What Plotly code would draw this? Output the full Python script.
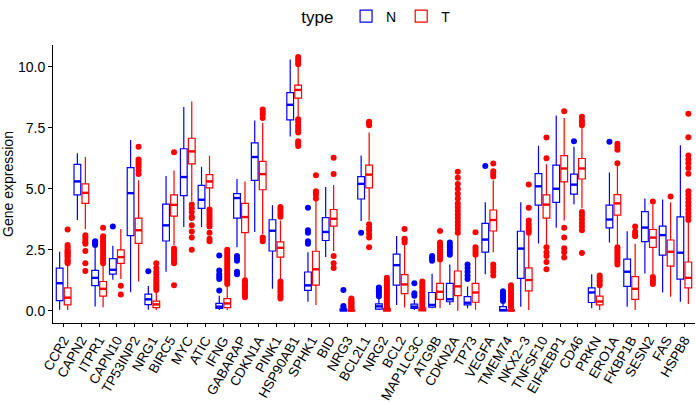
import plotly.graph_objects as go

genes = ["CCR2", "CAPN2", "ITPR1", "CAPN10", "TP53INP2", "NRG1", "BIRC5", "MYC", "ATIC",
         "IFNG", "GABARAP", "CDKN1A", "PINK1", "HSP90AB1", "SPHK1", "BID", "NRG3", "BCL2L1",
         "NRG2", "BCL2", "MAP1LC3C", "ATG9B", "CDKN2A", "TP73", "VEGFA", "TMEM74", "NKX2\u22123",
         "TNFSF10", "EIF4EBP1", "CD46", "PRKN", "ERO1A", "FKBP1B", "SESN2", "FAS", "HSPB8"]

# normal samples: lower whisker, q1, median, q3, upper whisker
n_lo = [0.04, 3.72, 0.18, 1.27, 0.76, 0.04, 1.6, 3.43, 3.43, 0.03, 2.6, 3.23, 0.9, 7.14, 0.37, 2.2,
        0.0, 3.68, 0.03, 0.24, 0.03, 0.1, 0.24, 0.1, 1.5, 0.0, 0.17, 2.76, 3.4, 4.37, 0.1, 2.8,
        0.17, 1.53, 0.75, 0.37]
n_q1 = [0.42, 4.75, 1.03, 1.5, 3.08, 0.25, 2.86, 4.72, 4.2, 0.1, 3.8, 5.34, 2.45, 7.82, 0.84, 2.88,
        0.0, 4.58, 0.07, 1.05, 0.1, 0.15, 0.37, 0.24, 2.4, 0.0, 1.33, 4.33, 4.44, 4.78, 0.34, 3.4,
        1.0, 2.83, 2.28, 1.3]
n_med = [1.13, 5.3, 1.35, 1.68, 4.82, 0.47, 3.5, 5.48, 4.55, 0.17, 4.62, 6.3, 3.28, 8.44, 1.04, 3.23,
         0.02, 5.2, 0.18, 1.87, 0.17, 0.24, 0.47, 0.33, 2.92, 0.03, 2.55, 5.1, 5.0, 5.17, 0.75, 3.74,
         1.6, 3.41, 3.1, 2.38]
n_q3 = [1.75, 6.0, 1.66, 2.14, 5.87, 0.68, 4.37, 6.64, 5.14, 0.3, 4.8, 6.88, 3.73, 8.94, 1.59, 3.82,
        0.08, 5.5, 0.28, 2.32, 0.27, 0.75, 1.12, 0.58, 3.58, 0.17, 3.26, 5.62, 5.97, 5.6, 0.94, 4.33,
        2.12, 4.06, 3.47, 3.85]
n_hi = [2.42, 6.45, 2.6, 2.67, 7.0, 1.02, 5.52, 8.35, 5.9, 0.62, 5.4, 7.8, 4.32, 10.3, 2.4, 5.07,
        0.12, 6.36, 0.5, 3.06, 0.45, 1.52, 1.9, 1.0, 4.45, 0.3, 4.45, 6.76, 8.0, 6.72, 1.5, 5.67,
        3.26, 4.6, 4.56, 6.78]
n_out = [[], [], [2.7, 2.75, 2.8, 2.85], [3.45], [], [1.62], [], [], [],
         [0.83, 1.3, 1.4, 1.5, 1.65, 2.27], [2.25, 2.15, 2.05, 1.6, 1.5], [], [], [],
         [2.75, 2.85, 3.2, 3.3, 4.22], [], [0.16, 0.2, 0.85], [3.2],
         [0.6, 0.7, 0.8, 0.9, 0.95], [], [0.62, 0.72, 1.13], [2.05, 2.15, 2.25],
         [2.3, 2.4, 2.5, 2.6, 2.7, 2.8], [1.3, 1.45, 1.6, 1.75, 1.9], [5.93],
         [0.4, 0.5, 0.6, 0.7, 0.8], [], [], [], [6.95], [], [6.93], [], [], [], []]

# tumour samples
t_lo = [0.03, 3.35, 0.15, 1.3, 1.2, 0.03, 2.7, 4.5, 4.25, 0.03, 1.35, 3.15, 1.3, 7.95, 0.24, 2.45,
        0.0, 3.7, 0.0, 0.13, 0.0, 0.1, 0.0, 0.04, 2.4, 0.0, 0.03, 2.7, 3.7, 4.2, 0.03, 2.72,
        0.03, 1.48, 0.58, 0.28]
t_q1 = [0.24, 4.4, 0.6, 1.94, 2.76, 0.13, 3.88, 6.02, 5.04, 0.13, 3.2, 4.96, 2.2, 8.71, 1.05, 3.47,
        0.0, 5.04, 0.0, 0.7, 0.0, 0.47, 0.62, 0.35, 3.27, 0.0, 0.82, 3.8, 5.28, 5.4, 0.24, 3.92,
        0.47, 2.6, 1.83, 0.94]
t_med = [0.54, 4.83, 0.9, 2.2, 3.3, 0.26, 4.34, 6.53, 5.3, 0.3, 3.84, 5.6, 2.58, 9.05, 1.7, 3.77,
         0.01, 5.58, 0.02, 1.08, 0.04, 0.78, 1.0, 0.75, 3.72, 0.01, 1.26, 4.35, 5.83, 5.83, 0.38, 4.4,
         0.9, 3.0, 2.42, 1.35]
t_q3 = [0.94, 5.2, 1.2, 2.5, 3.8, 0.4, 4.75, 7.07, 5.58, 0.5, 4.4, 6.12, 2.82, 9.25, 2.44, 4.15,
        0.03, 5.97, 0.1, 1.48, 0.12, 1.12, 1.63, 1.12, 4.13, 0.04, 1.76, 4.75, 6.36, 6.24, 0.6, 4.76,
        1.4, 3.33, 2.9, 2.0]
t_hi = [1.85, 6.3, 1.85, 3.35, 5.35, 0.8, 5.75, 8.58, 6.35, 1.02, 5.3, 7.7, 3.7, 10.05, 4.5, 5.15,
        0.06, 7.3, 0.12, 2.7, 0.15, 2.05, 3.1, 2.2, 5.35, 0.08, 3.1, 6.0, 7.9, 7.48, 0.95, 5.95,
        2.75, 4.35, 4.45, 3.6]
t_out = [[1.95, 2.0, 2.05, 2.1, 2.2, 2.25, 2.3, 2.35, 2.4, 2.45, 2.5, 2.6, 2.7, 3.33],
         [3.1, 3.0, 2.9, 2.8, 2.75, 2.45, 1.95, 1.63],
         [1.95, 2.05, 2.15, 2.25, 2.35, 2.45, 2.55, 2.65, 2.75, 2.85, 2.95, 3.05, 3.4],
         [1.03, 0.67],
         [5.6, 5.75, 5.9, 6.0, 6.1, 6.2, 6.72],
         [0.85, 0.95, 1.05, 1.15, 1.25, 1.35, 1.5, 1.6, 1.75, 1.95],
         [6.5, 2.55, 2.45, 2.35, 2.25, 2.15, 2.05, 1.95, 1.05],
         [4.35, 4.2, 4.05, 3.85, 3.8, 3.5, 3.25, 3.0, 2.5],
         [4.15, 4.05, 3.95, 3.85, 3.75, 3.65, 3.55, 3.45, 3.2, 2.95, 2.85],
         [1.1, 1.2, 1.3, 1.4, 1.5, 1.6, 1.7, 1.8, 1.9, 2.0, 2.1, 2.2, 2.3, 2.4, 2.5],
         [1.25, 1.15, 1.05, 0.95, 0.85, 0.75, 0.65, 0.55],
         [7.9, 8.05, 8.15, 8.25, 3.0, 2.95, 2.85],
         [3.85, 3.95, 4.05, 4.15, 4.25, 1.2, 1.1, 1.0, 0.9, 0.8, 0.7, 0.6, 0.5],
         [10.1, 10.2, 10.3, 10.4, 7.85, 7.75, 7.6, 7.5, 7.4, 7.3, 6.95, 6.85, 6.75],
         [4.6, 4.75, 4.85, 4.9, 5.55],
         [5.6, 6.27, 2.25, 1.95, 1.75],
         [0.1, 0.15, 0.2, 0.25, 0.3, 0.35, 0.4, 0.45, 0.5],
         [7.6, 7.7, 7.75, 3.55, 3.4, 3.3, 3.15, 3.0, 2.6],
         [0.15, 0.25, 0.35, 0.45, 0.55, 0.65, 0.75, 0.85, 0.95, 1.05, 1.15, 1.25, 1.35],
         [2.8, 2.9, 2.95, 3.35],
         [0.2, 0.3, 0.4, 0.5, 0.6, 0.7, 0.8, 0.9, 1.0, 1.1, 1.2],
         [2.1, 2.2, 2.3, 2.4, 2.5, 2.6, 2.7, 2.8, 3.27],
         [3.2, 3.35, 3.5, 3.65, 3.8, 3.95, 4.1, 4.25, 4.4, 4.6, 4.8, 5.0, 5.2, 5.45, 5.7],
         [2.3, 2.4, 2.5, 2.6, 3.22],
         [5.5, 5.6, 5.72, 6.03, 1.9, 1.75, 1.6, 1.45],
         [0.15, 0.25, 0.35, 0.45, 0.55, 0.65, 0.75, 0.85, 0.95, 1.05],
         [3.2, 3.3, 3.4, 3.55, 3.7, 4.22, 5.17],
         [6.25, 7.1, 2.6, 2.4, 2.25, 2.0, 1.7],
         [8.18, 3.4, 3.0, 2.56, 2.4, 2.18],
         [7.6, 7.7, 7.8, 7.95, 4.05, 3.9, 3.75, 3.6, 3.45, 3.3, 2.37],
         [1.05, 1.15, 1.25, 1.35, 1.45],
         [6.05, 6.6, 6.72, 6.84, 2.6, 2.5, 2.4, 2.3, 2.2, 2.1, 2.0, 1.9],
         [3.05, 3.15, 3.25, 3.45],
         [4.48, 1.38, 1.3, 1.2, 1.1],
         [4.68],
         [3.72, 3.85, 4.0, 4.15, 4.3, 4.45, 4.6, 4.75, 4.9, 5.62, 5.85, 6.05, 6.2, 6.36, 7.11, 8.07]]

FONT = "Liberation Sans, Arial, sans-serif"
DODGE = 0.225   # half the distance between the N and T box of one gene
BOXW = 0.38

fig = go.Figure()

groups = [("N", "#0000FF", -DODGE, n_lo, n_q1, n_med, n_q3, n_hi, n_out),
          ("T", "#FF0000", DODGE, t_lo, t_q1, t_med, t_q3, t_hi, t_out)]

for name, col, off, lo, q1, med, q3, hi, outs in groups:
    xs = [i + off for i in range(len(genes))]
    fig.add_trace(go.Box(
        x=xs, q1=q1, median=med, q3=q3, lowerfence=lo, upperfence=hi,
        name=name, width=BOXW, whiskerwidth=0, boxpoints=False,
        line=dict(color=col, width=1.2), fillcolor="rgba(255,255,255,0)",
        legendgroup=name, hoverinfo="skip"))
    # ggplot draws the median bar thicker than the box outline
    mx, my = [], []
    for x, m in zip(xs, med):
        mx += [x - BOXW / 2, x + BOXW / 2, None]
        my += [m, m, None]
    fig.add_trace(go.Scatter(x=mx, y=my, mode="lines", line=dict(color=col, width=2.4),
                             showlegend=False, hoverinfo="skip"))
    px_, py_ = [], []
    for i, vals in enumerate(outs):
        for v in vals:
            px_.append(i + off)
            py_.append(v)
    fig.add_trace(go.Scatter(
        x=px_, y=py_, mode="markers", marker=dict(color=col, size=6),
        showlegend=False, hoverinfo="skip"))

fig.update_layout(
    width=696, height=404,
    margin=dict(l=53, r=1, t=45, b=81),
    plot_bgcolor="white", paper_bgcolor="white",
    font=dict(family=FONT, size=14, color="black"),
    boxmode="overlay",
    legend=dict(orientation="h", x=0.505, xanchor="center", y=1.16, yanchor="top",
                title=dict(text="type ", side="left"), font=dict(size=14),
                itemwidth=30, tracegroupgap=0),
)
fig.update_xaxes(
    range=[-0.6, 35.6], tickvals=list(range(len(genes))), ticktext=genes,
    tickangle=-60, showgrid=False, zeroline=False, showline=True, automargin=False,
    linecolor="black", linewidth=1, ticks="outside", ticklen=3, tickcolor="black",
    tickfont=dict(size=13.5, color="black"))
fig.update_yaxes(
    range=[-0.5, 10.89], tickvals=[0, 2.5, 5, 7.5, 10],
    ticktext=["0.0", "2.5", "5.0", "7.5", "10.0"],
    title=dict(text="Gene expression", font=dict(size=14), standoff=8),
    showgrid=False, zeroline=False, showline=True, automargin=False,
    linecolor="black", linewidth=1, ticks="outside", ticklen=4, tickcolor="black",
    tickfont=dict(size=14, color="black"))

# the page keeps the browser's default 8px body margin unless it is cleared
fig.write_html("out.html", config={"displayModeBar": False},
               post_script="document.body.style.margin='0';")
